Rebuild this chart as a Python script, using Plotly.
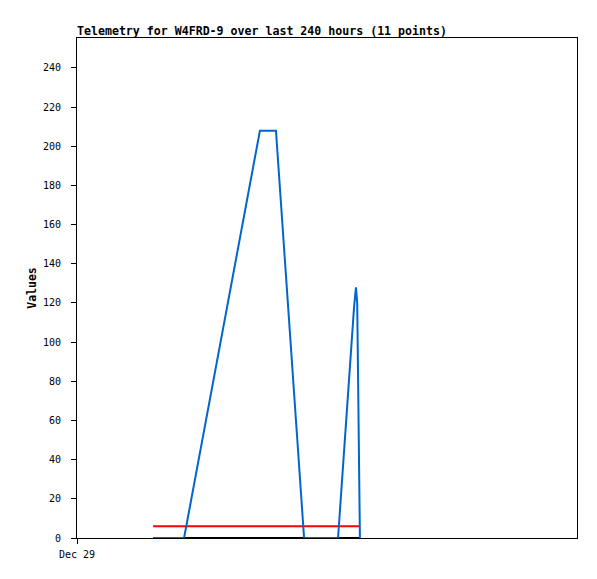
import plotly.graph_objects as go
import pandas as pd

start = pd.Timestamp("2023-12-29 00:00")

# Series values (hours since Dec 29 00:00, value)
blue_hours = [36.5, 51.4, 87.8, 95.5, 109.0, 125.3, 133.0, 133.9, 134.5, 135.8]
blue_vals = [0, 0, 208, 208, 0, 0, 118, 128, 120, 0]

red_hours = [36.5, 135.8]
red_vals = [6, 6]

black_hours = [36.5, 135.8]
black_vals = [0, 0]

tick_labels = ["Dec 29"]

def to_time(hours):
    return [start + pd.Timedelta(hours=h) for h in hours]

fig = go.Figure()
fig.add_trace(go.Scatter(x=to_time(black_hours), y=black_vals, mode="lines",
                         line=dict(color="#000000", width=2), showlegend=False))
fig.add_trace(go.Scatter(x=to_time(red_hours), y=red_vals, mode="lines",
                         line=dict(color="#ff0000", width=2), showlegend=False))
fig.add_trace(go.Scatter(x=to_time(blue_hours), y=blue_vals, mode="lines",
                         line=dict(color="#0066cc", width=2), showlegend=False))

font_mono = "DejaVu Sans Mono, Liberation Mono, monospace"

W, H = 589, 571
fig.update_layout(
    width=W, height=H,
    margin=dict(l=69, r=20, t=30, b=41, autoexpand=False),
    paper_bgcolor="white", plot_bgcolor="white",
    title=dict(text="<b>Telemetry for W4FRD-9 over last 240 hours (11 points)</b>",
               x=69/W, xanchor="left", y=1-23/H, yanchor="middle",
               font=dict(family=font_mono, size=11.6, color="black")),
    font=dict(family=font_mono, size=10, color="black"),
)
fig.update_xaxes(
    range=[start, start + pd.Timedelta(hours=240)],
    tickvals=[start], ticktext=tick_labels,
    showgrid=False, zeroline=False,
    showline=True, linecolor="black", linewidth=1, mirror=True,
    ticks="outside", ticklen=5, tickcolor="black",
    ticklabelstandoff=2,
    tickfont=dict(family=font_mono, size=10, color="black"),
)
fig.update_yaxes(
    range=[0, 255.3],
    tickvals=list(range(0, 241, 20)),
    showgrid=False, zeroline=False,
    showline=True, linecolor="black", linewidth=1, mirror=True,
    ticks="outside", ticklen=5, tickcolor="black",
    ticklabelstandoff=8,
    tickfont=dict(family=font_mono, size=10, color="black"),
    title=dict(text="<b>Values</b>", font=dict(family=font_mono, size=11.5, color="black"),
               standoff=3),
)

fig.write_html("out.html")
